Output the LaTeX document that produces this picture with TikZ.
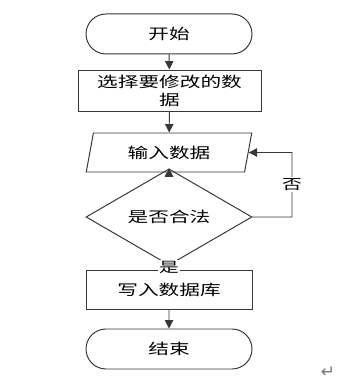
\documentclass[tikz,border=0pt]{standalone}
\usepackage{fontspec}
\newfontfamily\cjkfont[FakeStretch=1.4]{Noto Sans CJK SC}
\newfontfamily\symfont{DejaVu Sans}
\usetikzlibrary{arrows.meta, shapes.geometric, shapes.misc}
\definecolor{flowline}{RGB}{55, 55, 55}
\definecolor{flowgray}{RGB}{120, 120, 120}

\begin{document}
\begin{tikzpicture}[>={Triangle[length=6pt, width=6pt]},
    base/.style={draw=flowline, line width=0.7pt, inner sep=0pt,
        font=\cjkfont\fontsize{10.5}{12.8}\selectfont},
    term/.style={base, rounded rectangle, minimum width=4.15cm, minimum height=1cm},
    proc/.style={base, rectangle, minimum width=4.15cm, minimum height=0.975cm},
    io/.style={base, trapezium, trapezium left angle=74, trapezium right angle=106,
        trapezium stretches=true, minimum width=4.15cm, minimum height=0.975cm},
    test/.style={base, diamond, minimum width=4.15cm, minimum height=1.25cm},
    arr/.style={->, draw=flowline, line width=0.7pt},
    tag/.style={fill=white, inner sep=1pt, font=\cjkfont\fontsize{10}{12}\selectfont}]

\fill[white] (0, 0) rectangle (8.9, 9.65);
\useasboundingbox (0, 0) rectangle (8.9, 9.65);

% === Nodos ===
\node[term] (start) at (4.225, 8.8) {开始};
\node[proc, minimum width=4.575cm, minimum height=1.025cm, align=center]
    (select) at (4.2375, 7.3875) {选择要修改的数\\据};
\node[io] (input) at (4.225, 5.8375) {输入数据};
\node[test] (check) at (4.225, 4.225) {是否合法};
\node[proc] (write) at (4.225, 2.4125) {写入数据库};
\node[term] (stop) at (4.225, 0.925) {结束};

% Retorno
\coordinate (back) at (7.3, 5.8375);

% === Flechas ===
\draw[arr] (start) -- (select);
\draw[arr] (select) -- (input);
\draw[arr] (input) -- (check);
\draw[arr] (check) -- node[tag, pos=0.4] {是} (write);
\draw[arr] (write) -- (stop);
\draw[arr] (check.east) -| node[tag, pos=0.75] {否} (back) -- (input.east);

% Marca de párrafo
\node[text=flowgray, font=\symfont\large] (mark) at (8.2, 0.35) {↵};

\end{tikzpicture}
\end{document}
